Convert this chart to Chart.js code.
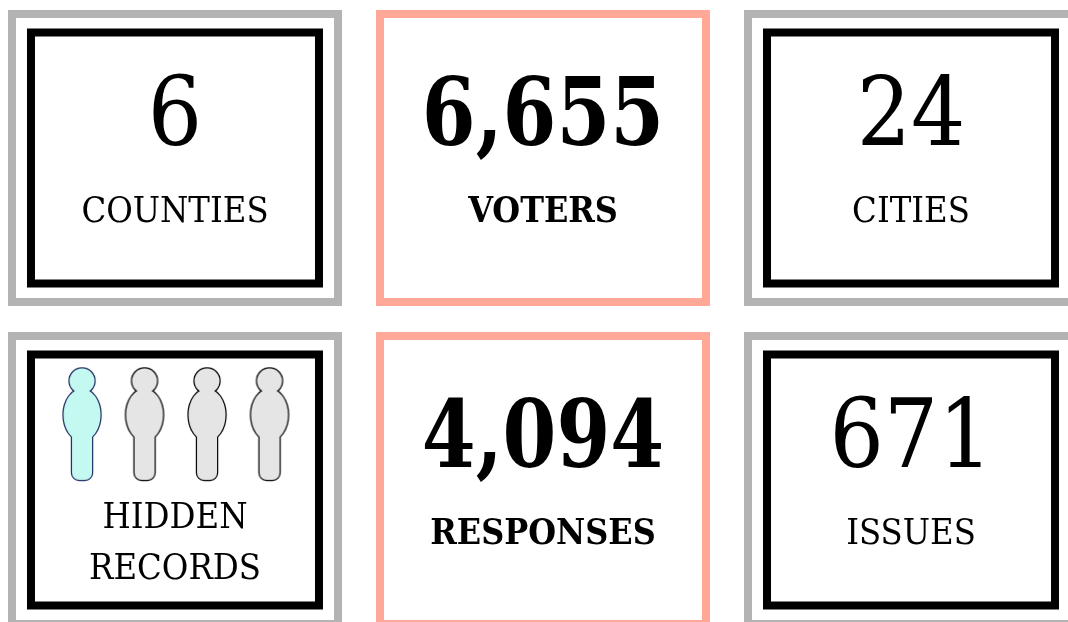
<!DOCTYPE html>
<html>
<head>
<meta charset="utf-8">
<title>Survey summary</title>
<script src="https://cdn.jsdelivr.net/npm/chart.js@4"></script>
<style>
  html, body { margin: 0; padding: 0; background: #fff; overflow: hidden; }
  canvas { display: block; }
</style>
</head>
<body>
<canvas id="cards" width="1068" height="622"></canvas>
<script>
// Data
const cardColumns = [0, 1, 2, 0, 1, 2];
const cardRows = [0, 0, 0, 1, 1, 1];
const cardValues = [6, 6655, 24, null, 4094, 671];
const cardLabels = [["COUNTIES"], ["VOTERS"], ["CITIES"], ["HIDDEN", "RECORDS"], ["RESPONSES"], ["ISSUES"]];
const cardHighlighted = [false, true, false, false, true, false];
const personIndex = [0, 1, 2, 3];
const personFound = [true, false, false, false];

const SERIF = '"DejaVu Serif Condensed", "DejaVu Serif", serif';

// One person icon, returned as a canvas to use as a point style
function makePerson(fill, outline) {
  const c = document.createElement("canvas");
  c.width = 42;
  c.height = 116;
  const g = c.getContext("2d");
  const shape = () => {
    g.beginPath();
    g.arc(21, 14, 12.5, 0, Math.PI * 2);
    g.closePath();
    g.moveTo(39.5, 48);
    g.ellipse(21, 48, 18.5, 26, 0, 0, Math.PI * 2);
    g.closePath();
    g.roundRect(11, 55, 20, 58, [0, 0, 7, 7]);
  };
  g.strokeStyle = outline;
  g.lineWidth = 2.4;
  shape();
  g.stroke();
  g.fillStyle = fill;
  shape();
  g.fill("nonzero");
  return c;
}

const personOn = makePerson("#c4f9f1", "#1c2a5c");
const personOff = makePerson("#e5e5e5", "#000");

// Frames and text for each card
const cardPlugin = {
  id: "cardPlugin",
  beforeDatasetsDraw(chart) {
    const { ctx, scales } = chart;
    ctx.save();
    cardColumns.forEach((col, i) => {
      const cx = scales.x.getPixelForValue(col);
      const cy = scales.y.getPixelForValue(cardRows[i]);
      if (cardHighlighted[i]) {
        ctx.strokeStyle = "#ffa898";
        ctx.lineWidth = 8;
        ctx.strokeRect(cx - 163, cy - 144, 326, 288);
      } else {
        ctx.strokeStyle = "#b3b3b3";
        ctx.lineWidth = 8;
        ctx.strokeRect(cx - 163, cy - 144, 326, 288);
        ctx.strokeStyle = "#000";
        ctx.strokeRect(cx - 144, cy - 125.5, 288, 251);
      }
      ctx.fillStyle = "#000";
      ctx.textAlign = "center";
      ctx.textBaseline = "alphabetic";
      if (cardValues[i] !== null) {
        const text = cardValues[i].toLocaleString("en-US");
        if (cardHighlighted[i]) {
          // bold digits run wide in this font, squeeze them a little
          ctx.font = "bold 94px " + SERIF;
          ctx.fillText(text, cx, cy - 13, ctx.measureText(text).width * 0.915);
          ctx.font = "bold 35.5px " + SERIF;
        } else {
          ctx.font = "95px " + SERIF;
          ctx.fillText(text, cx, cy - 13);
          ctx.font = "36px " + SERIF;
        }
        ctx.fillText(cardLabels[i][0], cx, cy + 64);
      } else {
        ctx.font = "36px " + SERIF;
        ctx.fillText(cardLabels[i][0], cx, cy + 48);
        ctx.fillText(cardLabels[i][1], cx, cy + 99);
      }
    });
    ctx.restore();
  }
};

new Chart(document.getElementById("cards"), {
  type: "scatter",
  data: {
    datasets: [
      {
        label: "Cards",
        data: cardColumns.map((col, i) => ({ x: col, y: cardRows[i] })),
        pointRadius: 0
      },
      {
        label: "Hidden records",
        xAxisID: "personX",
        yAxisID: "personY",
        data: personIndex.map(p => ({ x: p, y: 0 })),
        pointStyle: personFound.map(f => (f ? personOn : personOff))
      }
    ]
  },
  options: {
    responsive: false,
    animation: false,
    layout: { padding: 0, autoPadding: false },
    plugins: { legend: { display: false }, tooltip: { enabled: false } },
    scales: {
      x: { display: false, min: -0.4755, max: 2.4266 },
      y: { display: false, reverse: true, min: -0.4907, max: 1.441 },
      personX: { display: false, axis: "x", min: -1.312, max: 15.774 },
      personY: { display: false, axis: "y", reverse: true, min: -0.683, max: 0.317 }
    }
  },
  plugins: [cardPlugin]
});
</script>
</body>
</html>
